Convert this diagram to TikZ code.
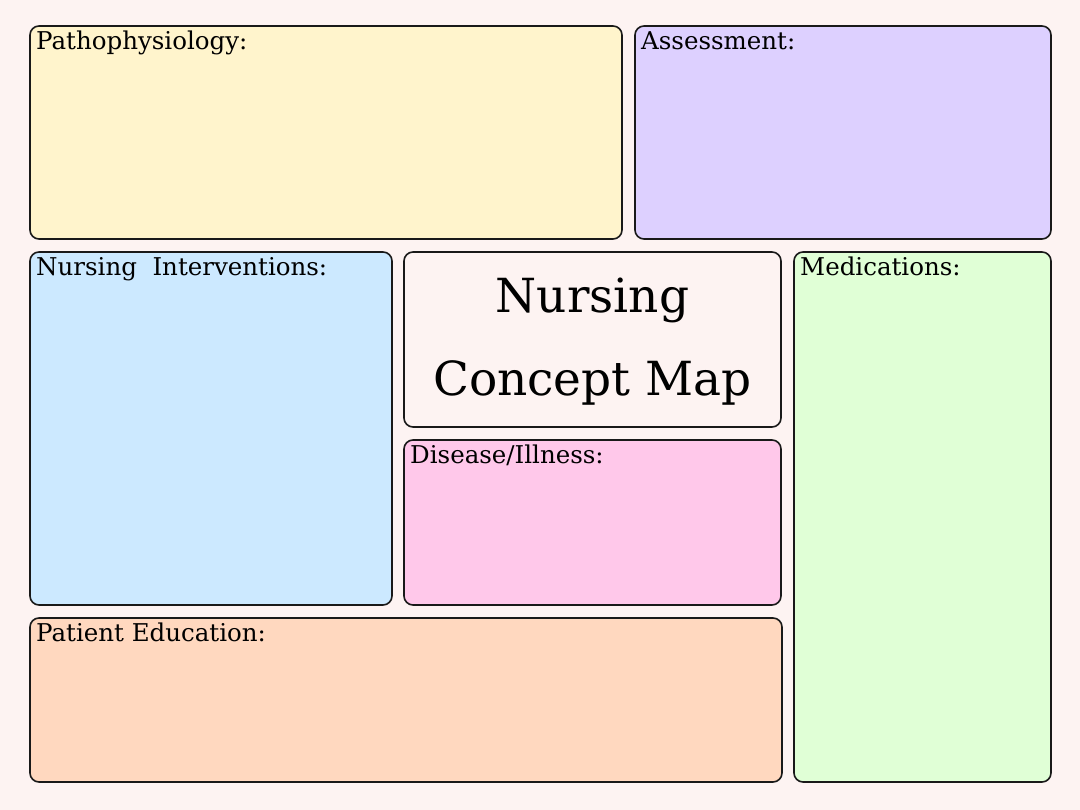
\documentclass[tikz,border=0pt]{standalone}
\usepackage{fontspec}
\setmainfont{DejaVu Serif}
\definecolor{bgc}{HTML}{FDF3F2}
\definecolor{cyel}{HTML}{FFF4CC}
\definecolor{clav}{HTML}{DDD0FF}
\definecolor{cblu}{HTML}{CCE9FF}
\definecolor{cpnk}{HTML}{FFC8EA}
\definecolor{cgrn}{HTML}{E0FFD6}
\definecolor{cpch}{HTML}{FFD8BF}
\tikzset{
  panel/.style={draw=black!90, line width=1.6pt, rounded corners=9pt},
  lbl/.style={anchor=base west, inner sep=0pt, font=\fontsize{24.5}{28}\selectfont},
  ttl/.style={anchor=base, inner sep=0pt, font=\fontsize{47}{50}\selectfont},
}
\begin{document}
\begin{tikzpicture}[x=1pt,y=-1pt]
\fill[bgc] (0,0) rectangle (1080,810);
\useasboundingbox (0,0) rectangle (1080,810);
\filldraw[panel, fill=cyel] (30,26) rectangle (622,239);
\filldraw[panel, fill=clav] (635,26) rectangle (1051,239);
\filldraw[panel, fill=cblu] (30,252) rectangle (392,605);
\filldraw[panel, fill=bgc] (404,252) rectangle (781,427);
\filldraw[panel, fill=cpnk] (404,440) rectangle (781,605);
\filldraw[panel, fill=cgrn] (794,252) rectangle (1051,782);
\filldraw[panel, fill=cpch] (30,618) rectangle (782,782);
\node[lbl] (patho) at (36,50) {Pathophysiology:};
\node[lbl] (assess) at (641,50) {Assessment:};
\node[lbl] (interv) at (36,276) {Nursing\ \ Interventions:};
\node[lbl] (dis) at (410,464) {Disease/Illness:};
\node[lbl] (med) at (800,276) {Medications:};
\node[lbl] (edu) at (36,641) {Patient Education:};
\node[ttl] (title1) at (592.5,313) {Nursing};
\node[ttl] (title2) at (592.5,396) {Concept Map};
\end{tikzpicture}
\end{document}
